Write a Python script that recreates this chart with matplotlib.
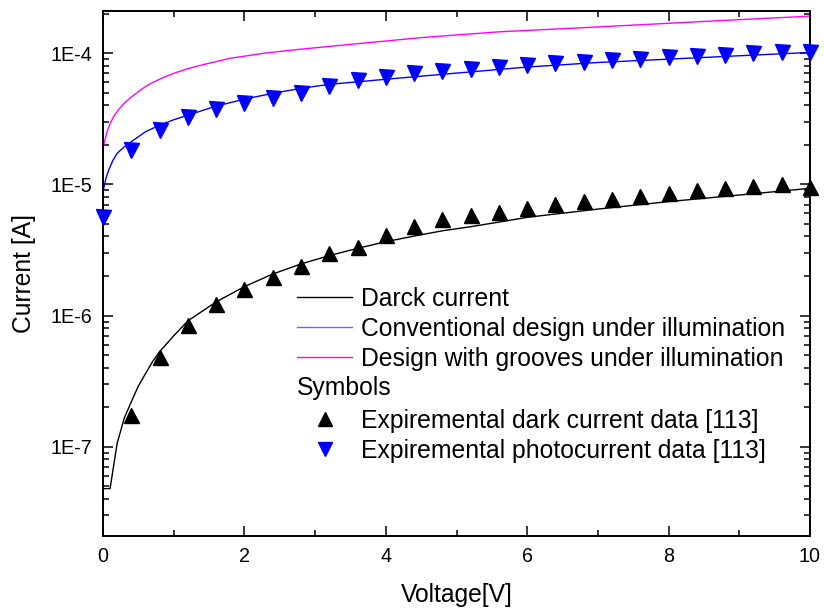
import matplotlib
matplotlib.use("Agg")
import matplotlib.pyplot as plt
from matplotlib.lines import Line2D
from matplotlib.ticker import LogLocator, NullFormatter, FixedLocator, FuncFormatter, MultipleLocator

plt.rcParams['font.family'] = ['Liberation Sans', 'DejaVu Sans']

# ---- data ----
V_dark_line = [0, 0.1, 0.2, 0.3, 0.4, 0.5, 0.6, 0.7, 0.8, 1.0, 1.2, 1.6, 2.0, 2.4, 2.8, 3.2, 3.6,
               4.0, 4.4, 4.8, 5.2, 5.6, 6.0, 7.0, 8.0, 9.0, 10.0]
I_dark_line = [4.8e-8, 4.8e-8, 1.06e-7, 1.65e-7, 2.2e-7, 2.9e-7, 3.6e-7, 4.45e-7, 5.3e-7, 7.0e-7,
               9.1e-7, 1.27e-6, 1.66e-6, 2.07e-6, 2.47e-6, 2.86e-6, 3.25e-6, 3.65e-6, 4.03e-6,
               4.42e-6, 4.75e-6, 5.15e-6, 5.6e-6, 6.47e-6, 7.38e-6, 8.28e-6, 9.31e-6]

V_conv = [0, 0.04, 0.08, 0.14, 0.2, 0.3, 0.4, 0.6, 0.8, 1.0, 1.2, 1.6, 2.0, 2.4, 2.8, 3.2,
          4, 5, 6, 7, 8, 9, 10]
I_conv = [8.8e-6, 1.1e-5, 1.28e-5, 1.52e-5, 1.72e-5, 1.93e-5, 2.11e-5, 2.51e-5, 2.82e-5,
          3.1e-5, 3.36e-5, 3.94e-5, 4.45e-5, 4.93e-5, 5.38e-5, 5.77e-5, 6.31e-5, 7.03e-5,
          7.82e-5, 8.47e-5, 8.98e-5, 9.53e-5, 1.01e-4]

V_groove = [0, 0.05, 0.1, 0.15, 0.22, 0.3, 0.4, 0.5, 0.6, 0.7, 0.85, 1.0, 1.2, 1.4, 1.8, 2.3,
            2.8, 3.4, 4.5, 5.6, 7.0, 8.5, 10]
I_groove = [1.88e-5, 2.44e-5, 2.9e-5, 3.27e-5, 3.7e-5, 4.14e-5, 4.62e-5, 5.07e-5, 5.55e-5,
            5.95e-5, 6.5e-5, 7.0e-5, 7.6e-5, 8.11e-5, 9.12e-5, 1.0e-4, 1.07e-4, 1.15e-4,
            1.31e-4, 1.45e-4, 1.58e-4, 1.74e-4, 1.91e-4]

V_dark_exp = [0.4, 0.8, 1.2, 1.6, 2.0, 2.4, 2.8, 3.2, 3.6, 4.0, 4.4, 4.8, 5.2, 5.6, 6.0,
              6.4, 6.8, 7.2, 7.6, 8.0, 8.4, 8.8, 9.2, 9.6, 10.0]
I_dark_exp = [1.76e-7, 4.84e-7, 8.45e-7, 1.22e-6, 1.59e-6, 1.97e-6, 2.39e-6, 2.99e-6,
              3.30e-6, 4.08e-6, 4.78e-6, 5.40e-6, 5.79e-6, 6.17e-6, 6.62e-6, 7.03e-6,
              7.41e-6, 7.76e-6, 8.17e-6, 8.57e-6, 8.99e-6, 9.31e-6, 9.75e-6, 1.01e-5, 9.6e-6]

V_photo_exp = [0.0, 0.4, 0.8, 1.2, 1.6, 2.0, 2.4, 2.8, 3.2, 3.6, 4.0, 4.4, 4.8, 5.2, 5.6,
               6.0, 6.4, 6.8, 7.2, 7.6, 8.0, 8.4, 8.8, 9.2, 9.6, 10.0]
I_photo_exp = [5.6e-6, 1.82e-5, 2.59e-5, 3.24e-5, 3.72e-5, 4.18e-5, 4.56e-5, 4.98e-5,
               5.6e-5, 6.2e-5, 6.6e-5, 7.0e-5, 7.33e-5, 7.55e-5, 7.86e-5, 8.06e-5, 8.35e-5,
               8.58e-5, 8.84e-5, 9.0e-5, 9.27e-5, 9.48e-5, 9.71e-5, 9.95e-5, 1.02e-4, 1.02e-4]

line_labels = ["Darck current", "Conventional design under illumination",
               "Design with grooves under illumination"]
sym_title = "Symbols"
sym_labels = ["Expiremental dark current data [113]", "Expiremental photocurrent data [113]"]
y_tick_vals = [1e-7, 1e-6, 1e-5, 1e-4]
y_tick_labels = ["1E-7", "1E-6", "1E-5", "1E-4"]

# ---- figure ----
fig = plt.figure(figsize=(8.24, 6.10), dpi=100)
ax = fig.add_axes([103/824, 1-536/610, (810-103)/824, (536-11)/610])

ax.plot(V_dark_line, I_dark_line, color='black', lw=1.0)
ax.plot(V_conv, I_conv, color='#0000ff', lw=1.0)
ax.plot(V_groove, I_groove, color='#ff00ff', lw=1.0)
ax.plot(V_dark_exp, I_dark_exp, linestyle='none', marker='^', ms=10.8, color='black', clip_on=False, zorder=5)
ax.plot(V_photo_exp, I_photo_exp, linestyle='none', marker='v', ms=10.8, color='#0000ff', clip_on=False, zorder=5)

ax.set_yscale('log')
ax.set_xlim(0, 10)
ax.set_ylim(2.09e-8, 2.09e-4)

ax.xaxis.set_major_locator(MultipleLocator(2))
ax.xaxis.set_minor_locator(MultipleLocator(1))
ax.yaxis.set_major_locator(FixedLocator(y_tick_vals))
ax.yaxis.set_major_formatter(FuncFormatter(lambda v, p: y_tick_labels[y_tick_vals.index(v)] if v in y_tick_vals else ""))
ax.yaxis.set_minor_locator(LogLocator(base=10, subs=range(2, 10), numticks=20))
ax.yaxis.set_minor_formatter(NullFormatter())

ax.tick_params(which='both', direction='in', top=True, right=True, width=1.1, colors='black')
ax.tick_params(which='major', length=7.2, labelsize=14.2, pad=8)
ax.tick_params(which='minor', length=4.3)
for s in ax.spines.values():
    s.set_linewidth(1.4)

ax.set_xlabel("Voltage[V]", fontsize=17.7, labelpad=12)
ax.set_ylabel("Current [A]", fontsize=17.7, labelpad=10)

# legends
h_lines = [Line2D([], [], color='black', lw=1.0),
           Line2D([], [], color='#0000ff', lw=1.0, alpha=0.6),
           Line2D([], [], color='#ff00ff', lw=1.0)]
leg1 = ax.legend(h_lines, line_labels, loc='upper left', bbox_to_anchor=((297-103)/707, (536-287)/525),
                 frameon=False, fontsize=17.8, handlelength=2.24, handletextpad=0.33,
                 labelspacing=0.24, borderpad=0, borderaxespad=0)
ax.add_artist(leg1)
ax.text((297-103)/707, (536-388)/525, sym_title, transform=ax.transAxes, fontsize=17.8,
        ha='left', va='center')
h_syms = [Line2D([], [], linestyle='none', marker='^', ms=10, color='black'),
          Line2D([], [], linestyle='none', marker='v', ms=10, color='#0000ff')]
leg2 = ax.legend(h_syms, sym_labels, loc='upper left', bbox_to_anchor=((297-103)/707, (536-409)/525),
                 frameon=False, fontsize=17.8, handlelength=2.24, handletextpad=0.33,
                 labelspacing=0.24, borderpad=0, borderaxespad=0)

fig.savefig("out.png", dpi=100)
